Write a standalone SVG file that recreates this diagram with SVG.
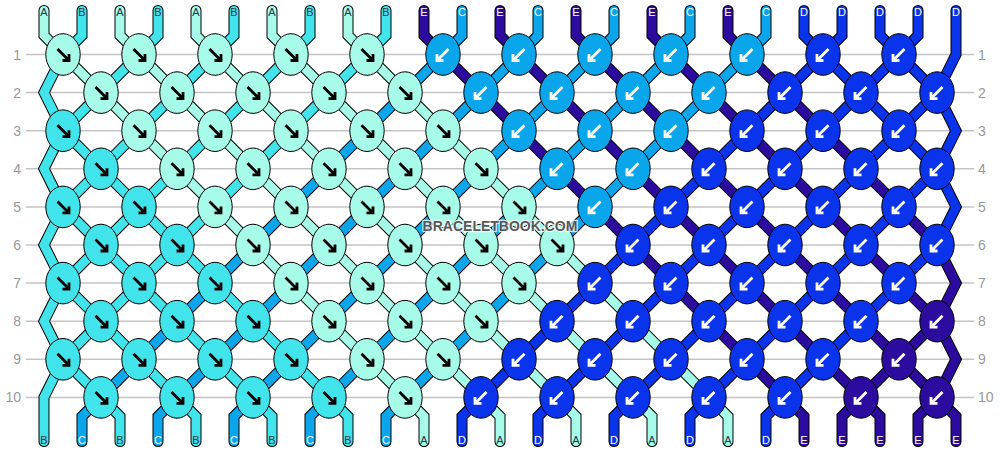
<svg xmlns="http://www.w3.org/2000/svg" width="1000" height="452" viewBox="0 0 1000 452">
<style>
.grid line{stroke:#c4c4c4;stroke-width:1.5}
.rl{font-family:"Liberation Sans",Arial,sans-serif;font-size:14px;fill:#999}
.ol use{fill:none;stroke:#000;stroke-width:11;stroke-linejoin:miter;stroke-linecap:round}
.fl use{fill:none;stroke-width:9;stroke-linejoin:miter;stroke-linecap:round}
.fl .A{stroke:#a6fce8}.fl .B{stroke:#40e4ea}.fl .C{stroke:#0aa6ec}.fl .D{stroke:#0a34ec}.fl .E{stroke:#2c0c9e}
.lab text{font-family:"Liberation Sans",Arial,sans-serif;font-size:11px;text-anchor:middle}
.lab .A,.lab .B{fill:#333}.lab .C,.lab .D,.lab .E{fill:#fff}
.k ellipse{stroke:#000;stroke-width:1}
.k.A ellipse{fill:#a6fce8}.k.B ellipse{fill:#40e4ea}.k.C ellipse{fill:#0aa6ec}.k.D ellipse{fill:#0a34ec}.k.E ellipse{fill:#2c0c9e}
.k.A use,.k.B use{stroke:#000}.k.C use,.k.D use,.k.E use{stroke:#fff}
.wm{font-family:"Liberation Sans",Arial,sans-serif;font-size:14px;font-weight:bold;text-anchor:middle;fill:#3c3c3c;fill-opacity:0.85;stroke:#fff;stroke-opacity:0.8;stroke-width:2.5;paint-order:stroke;stroke-linejoin:round}
</style>
<defs>
<path id="fw" d="M-5.5,-5.5L5,5M6,-0.5V6H-0.5" fill="none" stroke-width="2.8"/>
<path id="bw" d="M5.5,-5.5L-5,5M-6,-0.5V6H0.5" fill="none" stroke-width="2.8"/>
<polyline id="s0" points="44,10.5 44,35.5 63,54.5 101,92.6 139,130.7 177,168.8 215,206.9 253,245 291,283.1 329,321.2 367,359.3 405,397.4 424,416.4 424,441.5"/>
<polyline id="s1" points="82,10.5 82,35.5 63,54.5 44,92.6 63,130.7 101,168.8 139,206.9 177,245 215,283.1 253,321.2 291,359.3 329,397.4 348,416.4 348,441.5"/>
<polyline id="s2" points="120,10.5 120,35.5 139,54.5 177,92.6 215,130.7 253,168.8 291,206.9 329,245 367,283.1 405,321.2 443,359.3 481,397.4 500,416.4 500,441.5"/>
<polyline id="s3" points="158,10.5 158,35.5 139,54.5 101,92.6 63,130.7 44,168.8 63,206.9 101,245 139,283.1 177,321.2 215,359.3 253,397.4 272,416.4 272,441.5"/>
<polyline id="s4" points="196,10.5 196,35.5 215,54.5 253,92.6 291,130.7 329,168.8 367,206.9 405,245 443,283.1 481,321.2 519,359.3 557,397.4 576,416.4 576,441.5"/>
<polyline id="s5" points="234,10.5 234,35.5 215,54.5 177,92.6 139,130.7 101,168.8 63,206.9 44,245 63,283.1 101,321.2 139,359.3 177,397.4 196,416.4 196,441.5"/>
<polyline id="s6" points="272,10.5 272,35.5 291,54.5 329,92.6 367,130.7 405,168.8 443,206.9 481,245 519,283.1 557,321.2 595,359.3 633,397.4 652,416.4 652,441.5"/>
<polyline id="s7" points="310,10.5 310,35.5 291,54.5 253,92.6 215,130.7 177,168.8 139,206.9 101,245 63,283.1 44,321.2 63,359.3 101,397.4 120,416.4 120,441.5"/>
<polyline id="s8" points="348,10.5 348,35.5 367,54.5 405,92.6 443,130.7 481,168.8 519,206.9 557,245 595,283.1 633,321.2 671,359.3 709,397.4 728,416.4 728,441.5"/>
<polyline id="s9" points="386,10.5 386,35.5 367,54.5 329,92.6 291,130.7 253,168.8 215,206.9 177,245 139,283.1 101,321.2 63,359.3 44,397.4 44,416.4 44,441.5"/>
<polyline id="s10" points="424,10.5 424,35.5 443,54.5 481,92.6 519,130.7 557,168.8 595,206.9 633,245 671,283.1 709,321.2 747,359.3 785,397.4 804,416.4 804,441.5"/>
<polyline id="s11" points="462,10.5 462,35.5 443,54.5 405,92.6 367,130.7 329,168.8 291,206.9 253,245 215,283.1 177,321.2 139,359.3 101,397.4 82,416.4 82,441.5"/>
<polyline id="s12" points="500,10.5 500,35.5 519,54.5 557,92.6 595,130.7 633,168.8 671,206.9 709,245 747,283.1 785,321.2 823,359.3 861,397.4 880,416.4 880,441.5"/>
<polyline id="s13" points="538,10.5 538,35.5 519,54.5 481,92.6 443,130.7 405,168.8 367,206.9 329,245 291,283.1 253,321.2 215,359.3 177,397.4 158,416.4 158,441.5"/>
<polyline id="s14" points="576,10.5 576,35.5 595,54.5 633,92.6 671,130.7 709,168.8 747,206.9 785,245 823,283.1 861,321.2 899,359.3 937,397.4 956,416.4 956,441.5"/>
<polyline id="s15" points="614,10.5 614,35.5 595,54.5 557,92.6 519,130.7 481,168.8 443,206.9 405,245 367,283.1 329,321.2 291,359.3 253,397.4 234,416.4 234,441.5"/>
<polyline id="s16" points="652,10.5 652,35.5 671,54.5 709,92.6 747,130.7 785,168.8 823,206.9 861,245 899,283.1 937,321.2 956,359.3 937,397.4 918,416.4 918,441.5"/>
<polyline id="s17" points="690,10.5 690,35.5 671,54.5 633,92.6 595,130.7 557,168.8 519,206.9 481,245 443,283.1 405,321.2 367,359.3 329,397.4 310,416.4 310,441.5"/>
<polyline id="s18" points="728,10.5 728,35.5 747,54.5 785,92.6 823,130.7 861,168.8 899,206.9 937,245 956,283.1 937,321.2 899,359.3 861,397.4 842,416.4 842,441.5"/>
<polyline id="s19" points="766,10.5 766,35.5 747,54.5 709,92.6 671,130.7 633,168.8 595,206.9 557,245 519,283.1 481,321.2 443,359.3 405,397.4 386,416.4 386,441.5"/>
<polyline id="s20" points="804,10.5 804,35.5 823,54.5 861,92.6 899,130.7 937,168.8 956,206.9 937,245 899,283.1 861,321.2 823,359.3 785,397.4 766,416.4 766,441.5"/>
<polyline id="s21" points="842,10.5 842,35.5 823,54.5 785,92.6 747,130.7 709,168.8 671,206.9 633,245 595,283.1 557,321.2 519,359.3 481,397.4 462,416.4 462,441.5"/>
<polyline id="s22" points="880,10.5 880,35.5 899,54.5 937,92.6 956,130.7 937,168.8 899,206.9 861,245 823,283.1 785,321.2 747,359.3 709,397.4 690,416.4 690,441.5"/>
<polyline id="s23" points="918,10.5 918,35.5 899,54.5 861,92.6 823,130.7 785,168.8 747,206.9 709,245 671,283.1 633,321.2 595,359.3 557,397.4 538,416.4 538,441.5"/>
<polyline id="s24" points="956,10.5 956,54.5 937,92.6 899,130.7 861,168.8 823,206.9 785,245 747,283.1 709,321.2 671,359.3 633,397.4 614,416.4 614,441.5"/>
</defs>
<rect width="1000" height="452" fill="#fff"/>
<g class="grid">
<line x1="26" y1="54.5" x2="974" y2="54.5"/><line x1="26" y1="92.6" x2="974" y2="92.6"/><line x1="26" y1="130.7" x2="974" y2="130.7"/><line x1="26" y1="168.8" x2="974" y2="168.8"/><line x1="26" y1="206.9" x2="974" y2="206.9"/><line x1="26" y1="245" x2="974" y2="245"/><line x1="26" y1="283.1" x2="974" y2="283.1"/><line x1="26" y1="321.2" x2="974" y2="321.2"/><line x1="26" y1="359.3" x2="974" y2="359.3"/><line x1="26" y1="397.4" x2="974" y2="397.4"/>
</g>
<g class="rl">
<text x="21" y="59.5" text-anchor="end">1</text><text x="21" y="97.6" text-anchor="end">2</text><text x="21" y="135.7" text-anchor="end">3</text><text x="21" y="173.8" text-anchor="end">4</text><text x="21" y="211.9" text-anchor="end">5</text><text x="21" y="250" text-anchor="end">6</text><text x="21" y="288.1" text-anchor="end">7</text><text x="21" y="326.2" text-anchor="end">8</text><text x="21" y="364.3" text-anchor="end">9</text><text x="21" y="402.4" text-anchor="end">10</text>
<text x="978" y="59.5">1</text><text x="978" y="97.6">2</text><text x="978" y="135.7">3</text><text x="978" y="173.8">4</text><text x="978" y="211.9">5</text><text x="978" y="250">6</text><text x="978" y="288.1">7</text><text x="978" y="326.2">8</text><text x="978" y="364.3">9</text><text x="978" y="402.4">10</text>
</g>
<g id="connectors">
<g class="ol">
<use href="#s0"/><use href="#s1"/><use href="#s2"/><use href="#s3"/><use href="#s4"/><use href="#s5"/><use href="#s6"/><use href="#s7"/><use href="#s8"/><use href="#s9"/><use href="#s10"/><use href="#s11"/><use href="#s12"/><use href="#s13"/><use href="#s14"/><use href="#s15"/><use href="#s16"/><use href="#s17"/><use href="#s18"/><use href="#s19"/><use href="#s20"/><use href="#s21"/><use href="#s22"/><use href="#s23"/><use href="#s24"/>
</g>
<g class="fl">
<use href="#s0" class="A"/><use href="#s1" class="B"/><use href="#s2" class="A"/><use href="#s3" class="B"/><use href="#s4" class="A"/><use href="#s5" class="B"/><use href="#s6" class="A"/><use href="#s7" class="B"/><use href="#s8" class="A"/><use href="#s9" class="B"/><use href="#s10" class="E"/><use href="#s11" class="C"/><use href="#s12" class="E"/><use href="#s13" class="C"/><use href="#s14" class="E"/><use href="#s15" class="C"/><use href="#s16" class="E"/><use href="#s17" class="C"/><use href="#s18" class="E"/><use href="#s19" class="C"/><use href="#s20" class="D"/><use href="#s21" class="D"/><use href="#s22" class="D"/><use href="#s23" class="D"/><use href="#s24" class="D"/>
</g>
</g>
<g class="lab" id="top-labels">
<text x="44" y="16" class="A">A</text><text x="82" y="16" class="B">B</text><text x="120" y="16" class="A">A</text><text x="158" y="16" class="B">B</text><text x="196" y="16" class="A">A</text><text x="234" y="16" class="B">B</text><text x="272" y="16" class="A">A</text><text x="310" y="16" class="B">B</text><text x="348" y="16" class="A">A</text><text x="386" y="16" class="B">B</text><text x="424" y="16" class="E">E</text><text x="462" y="16" class="C">C</text><text x="500" y="16" class="E">E</text><text x="538" y="16" class="C">C</text><text x="576" y="16" class="E">E</text><text x="614" y="16" class="C">C</text><text x="652" y="16" class="E">E</text><text x="690" y="16" class="C">C</text><text x="728" y="16" class="E">E</text><text x="766" y="16" class="C">C</text><text x="804" y="16" class="D">D</text><text x="842" y="16" class="D">D</text><text x="880" y="16" class="D">D</text><text x="918" y="16" class="D">D</text><text x="956" y="16" class="D">D</text>
</g>
<g class="lab" id="bottom-labels">
<text x="44" y="443.5" class="B">B</text><text x="82" y="443.5" class="C">C</text><text x="120" y="443.5" class="B">B</text><text x="158" y="443.5" class="C">C</text><text x="196" y="443.5" class="B">B</text><text x="234" y="443.5" class="C">C</text><text x="272" y="443.5" class="B">B</text><text x="310" y="443.5" class="C">C</text><text x="348" y="443.5" class="B">B</text><text x="386" y="443.5" class="C">C</text><text x="424" y="443.5" class="A">A</text><text x="462" y="443.5" class="D">D</text><text x="500" y="443.5" class="A">A</text><text x="538" y="443.5" class="D">D</text><text x="576" y="443.5" class="A">A</text><text x="614" y="443.5" class="D">D</text><text x="652" y="443.5" class="A">A</text><text x="690" y="443.5" class="D">D</text><text x="728" y="443.5" class="A">A</text><text x="766" y="443.5" class="D">D</text><text x="804" y="443.5" class="E">E</text><text x="842" y="443.5" class="E">E</text><text x="880" y="443.5" class="E">E</text><text x="918" y="443.5" class="E">E</text><text x="956" y="443.5" class="E">E</text>
</g>
<g id="knots">
<g id="r1k0" class="k A" transform="translate(63 54.5)"><ellipse rx="17.2" ry="20.8"/><use href="#fw"/></g>
<g id="r1k1" class="k A" transform="translate(139 54.5)"><ellipse rx="17.2" ry="20.8"/><use href="#fw"/></g>
<g id="r1k2" class="k A" transform="translate(215 54.5)"><ellipse rx="17.2" ry="20.8"/><use href="#fw"/></g>
<g id="r1k3" class="k A" transform="translate(291 54.5)"><ellipse rx="17.2" ry="20.8"/><use href="#fw"/></g>
<g id="r1k4" class="k A" transform="translate(367 54.5)"><ellipse rx="17.2" ry="20.8"/><use href="#fw"/></g>
<g id="r1k5" class="k C" transform="translate(443 54.5)"><ellipse rx="17.2" ry="20.8"/><use href="#bw"/></g>
<g id="r1k6" class="k C" transform="translate(519 54.5)"><ellipse rx="17.2" ry="20.8"/><use href="#bw"/></g>
<g id="r1k7" class="k C" transform="translate(595 54.5)"><ellipse rx="17.2" ry="20.8"/><use href="#bw"/></g>
<g id="r1k8" class="k C" transform="translate(671 54.5)"><ellipse rx="17.2" ry="20.8"/><use href="#bw"/></g>
<g id="r1k9" class="k C" transform="translate(747 54.5)"><ellipse rx="17.2" ry="20.8"/><use href="#bw"/></g>
<g id="r1k10" class="k D" transform="translate(823 54.5)"><ellipse rx="17.2" ry="20.8"/><use href="#bw"/></g>
<g id="r1k11" class="k D" transform="translate(899 54.5)"><ellipse rx="17.2" ry="20.8"/><use href="#bw"/></g>
<g id="r2k0" class="k A" transform="translate(101 92.6)"><ellipse rx="17.2" ry="20.8"/><use href="#fw"/></g>
<g id="r2k1" class="k A" transform="translate(177 92.6)"><ellipse rx="17.2" ry="20.8"/><use href="#fw"/></g>
<g id="r2k2" class="k A" transform="translate(253 92.6)"><ellipse rx="17.2" ry="20.8"/><use href="#fw"/></g>
<g id="r2k3" class="k A" transform="translate(329 92.6)"><ellipse rx="17.2" ry="20.8"/><use href="#fw"/></g>
<g id="r2k4" class="k A" transform="translate(405 92.6)"><ellipse rx="17.2" ry="20.8"/><use href="#fw"/></g>
<g id="r2k5" class="k C" transform="translate(481 92.6)"><ellipse rx="17.2" ry="20.8"/><use href="#bw"/></g>
<g id="r2k6" class="k C" transform="translate(557 92.6)"><ellipse rx="17.2" ry="20.8"/><use href="#bw"/></g>
<g id="r2k7" class="k C" transform="translate(633 92.6)"><ellipse rx="17.2" ry="20.8"/><use href="#bw"/></g>
<g id="r2k8" class="k C" transform="translate(709 92.6)"><ellipse rx="17.2" ry="20.8"/><use href="#bw"/></g>
<g id="r2k9" class="k D" transform="translate(785 92.6)"><ellipse rx="17.2" ry="20.8"/><use href="#bw"/></g>
<g id="r2k10" class="k D" transform="translate(861 92.6)"><ellipse rx="17.2" ry="20.8"/><use href="#bw"/></g>
<g id="r2k11" class="k D" transform="translate(937 92.6)"><ellipse rx="17.2" ry="20.8"/><use href="#bw"/></g>
<g id="r3k0" class="k B" transform="translate(63 130.7)"><ellipse rx="17.2" ry="20.8"/><use href="#fw"/></g>
<g id="r3k1" class="k A" transform="translate(139 130.7)"><ellipse rx="17.2" ry="20.8"/><use href="#fw"/></g>
<g id="r3k2" class="k A" transform="translate(215 130.7)"><ellipse rx="17.2" ry="20.8"/><use href="#fw"/></g>
<g id="r3k3" class="k A" transform="translate(291 130.7)"><ellipse rx="17.2" ry="20.8"/><use href="#fw"/></g>
<g id="r3k4" class="k A" transform="translate(367 130.7)"><ellipse rx="17.2" ry="20.8"/><use href="#fw"/></g>
<g id="r3k5" class="k A" transform="translate(443 130.7)"><ellipse rx="17.2" ry="20.8"/><use href="#fw"/></g>
<g id="r3k6" class="k C" transform="translate(519 130.7)"><ellipse rx="17.2" ry="20.8"/><use href="#bw"/></g>
<g id="r3k7" class="k C" transform="translate(595 130.7)"><ellipse rx="17.2" ry="20.8"/><use href="#bw"/></g>
<g id="r3k8" class="k C" transform="translate(671 130.7)"><ellipse rx="17.2" ry="20.8"/><use href="#bw"/></g>
<g id="r3k9" class="k D" transform="translate(747 130.7)"><ellipse rx="17.2" ry="20.8"/><use href="#bw"/></g>
<g id="r3k10" class="k D" transform="translate(823 130.7)"><ellipse rx="17.2" ry="20.8"/><use href="#bw"/></g>
<g id="r3k11" class="k D" transform="translate(899 130.7)"><ellipse rx="17.2" ry="20.8"/><use href="#bw"/></g>
<g id="r4k0" class="k B" transform="translate(101 168.8)"><ellipse rx="17.2" ry="20.8"/><use href="#fw"/></g>
<g id="r4k1" class="k A" transform="translate(177 168.8)"><ellipse rx="17.2" ry="20.8"/><use href="#fw"/></g>
<g id="r4k2" class="k A" transform="translate(253 168.8)"><ellipse rx="17.2" ry="20.8"/><use href="#fw"/></g>
<g id="r4k3" class="k A" transform="translate(329 168.8)"><ellipse rx="17.2" ry="20.8"/><use href="#fw"/></g>
<g id="r4k4" class="k A" transform="translate(405 168.8)"><ellipse rx="17.2" ry="20.8"/><use href="#fw"/></g>
<g id="r4k5" class="k A" transform="translate(481 168.8)"><ellipse rx="17.2" ry="20.8"/><use href="#fw"/></g>
<g id="r4k6" class="k C" transform="translate(557 168.8)"><ellipse rx="17.2" ry="20.8"/><use href="#bw"/></g>
<g id="r4k7" class="k C" transform="translate(633 168.8)"><ellipse rx="17.2" ry="20.8"/><use href="#bw"/></g>
<g id="r4k8" class="k D" transform="translate(709 168.8)"><ellipse rx="17.2" ry="20.8"/><use href="#bw"/></g>
<g id="r4k9" class="k D" transform="translate(785 168.8)"><ellipse rx="17.2" ry="20.8"/><use href="#bw"/></g>
<g id="r4k10" class="k D" transform="translate(861 168.8)"><ellipse rx="17.2" ry="20.8"/><use href="#bw"/></g>
<g id="r4k11" class="k D" transform="translate(937 168.8)"><ellipse rx="17.2" ry="20.8"/><use href="#bw"/></g>
<g id="r5k0" class="k B" transform="translate(63 206.9)"><ellipse rx="17.2" ry="20.8"/><use href="#fw"/></g>
<g id="r5k1" class="k B" transform="translate(139 206.9)"><ellipse rx="17.2" ry="20.8"/><use href="#fw"/></g>
<g id="r5k2" class="k A" transform="translate(215 206.9)"><ellipse rx="17.2" ry="20.8"/><use href="#fw"/></g>
<g id="r5k3" class="k A" transform="translate(291 206.9)"><ellipse rx="17.2" ry="20.8"/><use href="#fw"/></g>
<g id="r5k4" class="k A" transform="translate(367 206.9)"><ellipse rx="17.2" ry="20.8"/><use href="#fw"/></g>
<g id="r5k5" class="k A" transform="translate(443 206.9)"><ellipse rx="17.2" ry="20.8"/><use href="#fw"/></g>
<g id="r5k6" class="k A" transform="translate(519 206.9)"><ellipse rx="17.2" ry="20.8"/><use href="#fw"/></g>
<g id="r5k7" class="k C" transform="translate(595 206.9)"><ellipse rx="17.2" ry="20.8"/><use href="#bw"/></g>
<g id="r5k8" class="k D" transform="translate(671 206.9)"><ellipse rx="17.2" ry="20.8"/><use href="#bw"/></g>
<g id="r5k9" class="k D" transform="translate(747 206.9)"><ellipse rx="17.2" ry="20.8"/><use href="#bw"/></g>
<g id="r5k10" class="k D" transform="translate(823 206.9)"><ellipse rx="17.2" ry="20.8"/><use href="#bw"/></g>
<g id="r5k11" class="k D" transform="translate(899 206.9)"><ellipse rx="17.2" ry="20.8"/><use href="#bw"/></g>
<g id="r6k0" class="k B" transform="translate(101 245)"><ellipse rx="17.2" ry="20.8"/><use href="#fw"/></g>
<g id="r6k1" class="k B" transform="translate(177 245)"><ellipse rx="17.2" ry="20.8"/><use href="#fw"/></g>
<g id="r6k2" class="k A" transform="translate(253 245)"><ellipse rx="17.2" ry="20.8"/><use href="#fw"/></g>
<g id="r6k3" class="k A" transform="translate(329 245)"><ellipse rx="17.2" ry="20.8"/><use href="#fw"/></g>
<g id="r6k4" class="k A" transform="translate(405 245)"><ellipse rx="17.2" ry="20.8"/><use href="#fw"/></g>
<g id="r6k5" class="k A" transform="translate(481 245)"><ellipse rx="17.2" ry="20.8"/><use href="#fw"/></g>
<g id="r6k6" class="k A" transform="translate(557 245)"><ellipse rx="17.2" ry="20.8"/><use href="#fw"/></g>
<g id="r6k7" class="k D" transform="translate(633 245)"><ellipse rx="17.2" ry="20.8"/><use href="#bw"/></g>
<g id="r6k8" class="k D" transform="translate(709 245)"><ellipse rx="17.2" ry="20.8"/><use href="#bw"/></g>
<g id="r6k9" class="k D" transform="translate(785 245)"><ellipse rx="17.2" ry="20.8"/><use href="#bw"/></g>
<g id="r6k10" class="k D" transform="translate(861 245)"><ellipse rx="17.2" ry="20.8"/><use href="#bw"/></g>
<g id="r6k11" class="k D" transform="translate(937 245)"><ellipse rx="17.2" ry="20.8"/><use href="#bw"/></g>
<g id="r7k0" class="k B" transform="translate(63 283.1)"><ellipse rx="17.2" ry="20.8"/><use href="#fw"/></g>
<g id="r7k1" class="k B" transform="translate(139 283.1)"><ellipse rx="17.2" ry="20.8"/><use href="#fw"/></g>
<g id="r7k2" class="k B" transform="translate(215 283.1)"><ellipse rx="17.2" ry="20.8"/><use href="#fw"/></g>
<g id="r7k3" class="k A" transform="translate(291 283.1)"><ellipse rx="17.2" ry="20.8"/><use href="#fw"/></g>
<g id="r7k4" class="k A" transform="translate(367 283.1)"><ellipse rx="17.2" ry="20.8"/><use href="#fw"/></g>
<g id="r7k5" class="k A" transform="translate(443 283.1)"><ellipse rx="17.2" ry="20.8"/><use href="#fw"/></g>
<g id="r7k6" class="k A" transform="translate(519 283.1)"><ellipse rx="17.2" ry="20.8"/><use href="#fw"/></g>
<g id="r7k7" class="k D" transform="translate(595 283.1)"><ellipse rx="17.2" ry="20.8"/><use href="#bw"/></g>
<g id="r7k8" class="k D" transform="translate(671 283.1)"><ellipse rx="17.2" ry="20.8"/><use href="#bw"/></g>
<g id="r7k9" class="k D" transform="translate(747 283.1)"><ellipse rx="17.2" ry="20.8"/><use href="#bw"/></g>
<g id="r7k10" class="k D" transform="translate(823 283.1)"><ellipse rx="17.2" ry="20.8"/><use href="#bw"/></g>
<g id="r7k11" class="k D" transform="translate(899 283.1)"><ellipse rx="17.2" ry="20.8"/><use href="#bw"/></g>
<g id="r8k0" class="k B" transform="translate(101 321.2)"><ellipse rx="17.2" ry="20.8"/><use href="#fw"/></g>
<g id="r8k1" class="k B" transform="translate(177 321.2)"><ellipse rx="17.2" ry="20.8"/><use href="#fw"/></g>
<g id="r8k2" class="k B" transform="translate(253 321.2)"><ellipse rx="17.2" ry="20.8"/><use href="#fw"/></g>
<g id="r8k3" class="k A" transform="translate(329 321.2)"><ellipse rx="17.2" ry="20.8"/><use href="#fw"/></g>
<g id="r8k4" class="k A" transform="translate(405 321.2)"><ellipse rx="17.2" ry="20.8"/><use href="#fw"/></g>
<g id="r8k5" class="k A" transform="translate(481 321.2)"><ellipse rx="17.2" ry="20.8"/><use href="#fw"/></g>
<g id="r8k6" class="k D" transform="translate(557 321.2)"><ellipse rx="17.2" ry="20.8"/><use href="#bw"/></g>
<g id="r8k7" class="k D" transform="translate(633 321.2)"><ellipse rx="17.2" ry="20.8"/><use href="#bw"/></g>
<g id="r8k8" class="k D" transform="translate(709 321.2)"><ellipse rx="17.2" ry="20.8"/><use href="#bw"/></g>
<g id="r8k9" class="k D" transform="translate(785 321.2)"><ellipse rx="17.2" ry="20.8"/><use href="#bw"/></g>
<g id="r8k10" class="k D" transform="translate(861 321.2)"><ellipse rx="17.2" ry="20.8"/><use href="#bw"/></g>
<g id="r8k11" class="k E" transform="translate(937 321.2)"><ellipse rx="17.2" ry="20.8"/><use href="#bw"/></g>
<g id="r9k0" class="k B" transform="translate(63 359.3)"><ellipse rx="17.2" ry="20.8"/><use href="#fw"/></g>
<g id="r9k1" class="k B" transform="translate(139 359.3)"><ellipse rx="17.2" ry="20.8"/><use href="#fw"/></g>
<g id="r9k2" class="k B" transform="translate(215 359.3)"><ellipse rx="17.2" ry="20.8"/><use href="#fw"/></g>
<g id="r9k3" class="k B" transform="translate(291 359.3)"><ellipse rx="17.2" ry="20.8"/><use href="#fw"/></g>
<g id="r9k4" class="k A" transform="translate(367 359.3)"><ellipse rx="17.2" ry="20.8"/><use href="#fw"/></g>
<g id="r9k5" class="k A" transform="translate(443 359.3)"><ellipse rx="17.2" ry="20.8"/><use href="#fw"/></g>
<g id="r9k6" class="k D" transform="translate(519 359.3)"><ellipse rx="17.2" ry="20.8"/><use href="#bw"/></g>
<g id="r9k7" class="k D" transform="translate(595 359.3)"><ellipse rx="17.2" ry="20.8"/><use href="#bw"/></g>
<g id="r9k8" class="k D" transform="translate(671 359.3)"><ellipse rx="17.2" ry="20.8"/><use href="#bw"/></g>
<g id="r9k9" class="k D" transform="translate(747 359.3)"><ellipse rx="17.2" ry="20.8"/><use href="#bw"/></g>
<g id="r9k10" class="k D" transform="translate(823 359.3)"><ellipse rx="17.2" ry="20.8"/><use href="#bw"/></g>
<g id="r9k11" class="k E" transform="translate(899 359.3)"><ellipse rx="17.2" ry="20.8"/><use href="#bw"/></g>
<g id="r10k0" class="k B" transform="translate(101 397.4)"><ellipse rx="17.2" ry="20.8"/><use href="#fw"/></g>
<g id="r10k1" class="k B" transform="translate(177 397.4)"><ellipse rx="17.2" ry="20.8"/><use href="#fw"/></g>
<g id="r10k2" class="k B" transform="translate(253 397.4)"><ellipse rx="17.2" ry="20.8"/><use href="#fw"/></g>
<g id="r10k3" class="k B" transform="translate(329 397.4)"><ellipse rx="17.2" ry="20.8"/><use href="#fw"/></g>
<g id="r10k4" class="k A" transform="translate(405 397.4)"><ellipse rx="17.2" ry="20.8"/><use href="#fw"/></g>
<g id="r10k5" class="k D" transform="translate(481 397.4)"><ellipse rx="17.2" ry="20.8"/><use href="#bw"/></g>
<g id="r10k6" class="k D" transform="translate(557 397.4)"><ellipse rx="17.2" ry="20.8"/><use href="#bw"/></g>
<g id="r10k7" class="k D" transform="translate(633 397.4)"><ellipse rx="17.2" ry="20.8"/><use href="#bw"/></g>
<g id="r10k8" class="k D" transform="translate(709 397.4)"><ellipse rx="17.2" ry="20.8"/><use href="#bw"/></g>
<g id="r10k9" class="k D" transform="translate(785 397.4)"><ellipse rx="17.2" ry="20.8"/><use href="#bw"/></g>
<g id="r10k10" class="k E" transform="translate(861 397.4)"><ellipse rx="17.2" ry="20.8"/><use href="#bw"/></g>
<g id="r10k11" class="k E" transform="translate(937 397.4)"><ellipse rx="17.2" ry="20.8"/><use href="#bw"/></g>
</g>
<text class="wm" x="500" y="231">BRACELETBOOK.COM</text>
</svg>
